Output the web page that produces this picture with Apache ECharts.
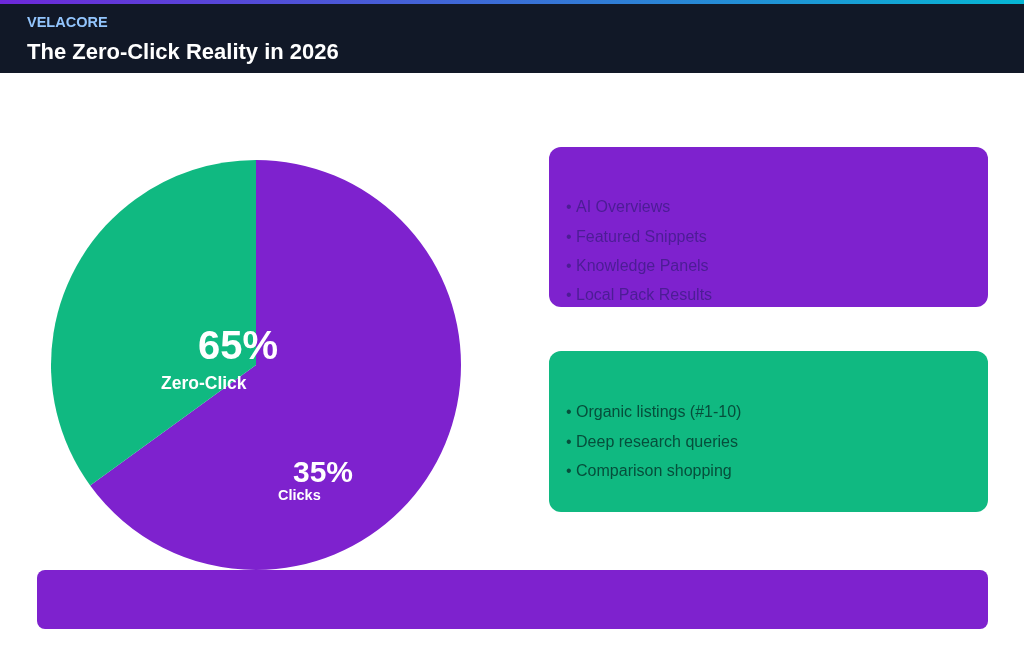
<!DOCTYPE html>
<html>
<head>
<meta charset="utf-8">
<script src="https://cdn.jsdelivr.net/npm/echarts@6/dist/echarts.min.js"></script>
<style>
  html, body { margin: 0; padding: 0; background: #fff; }
  #chart { width: 1024px; height: 658px; }
</style>
</head>
<body>
<div id="chart"></div>
<script>
// data
const categories = ['Zero-Click', 'Clicks'];
const shares = [65, 35];
const sliceColors = ['#7e22ce', '#10b981'];
const zeroClickItems = ['AI Overviews', 'Featured Snippets', 'Knowledge Panels', 'Local Pack Results'];
const clickItems = ['Organic listings (#1-10)', 'Deep research queries', 'Comparison shopping'];

const font = '"Liberation Sans", Arial, sans-serif';

const chart = echarts.init(document.getElementById('chart'));

// bullet list texts inside a card
function bullets(items, x, y0, color) {
  return items.map((t, i) => ({
    type: 'text', left: x, top: y0 + i * 29.3, z: 10,
    style: { text: '• ' + t, fill: color, font: '16px ' + font }
  }));
}

chart.setOption({
  backgroundColor: '#ffffff',
  animation: false,
  series: [
    {
      type: 'pie',
      center: [256, 365],
      radius: 205,
      startAngle: 90,
      clockwise: true,
      label: { show: false },
      labelLine: { show: false },
      emphasis: { disabled: true },
      data: categories.map((c, i) => ({ name: c, value: shares[i], itemStyle: { color: sliceColors[i] } }))
    }
  ],
  graphic: [
    // header
    { type: 'rect', left: 0, top: 0, z: 1, shape: { width: 1024, height: 73 }, style: { fill: '#111827' } },
    {
      type: 'rect', left: 0, top: 0, z: 2, shape: { width: 1024, height: 4 },
      style: { fill: new echarts.graphic.LinearGradient(0, 0, 1, 0, [
        { offset: 0, color: '#6d28d9' }, { offset: 1, color: '#06b6d4' }
      ]) }
    },
    { type: 'text', left: 27, top: 15, z: 3, style: { text: 'VELACORE', fill: '#93c5fd', font: 'bold 14.5px ' + font } },
    { type: 'text', left: 27, top: 42, z: 3, style: { text: 'The Zero-Click Reality in 2026', fill: '#ffffff', font: 'bold 22px ' + font } },

    // pie labels
    { type: 'text', left: 198, top: 328, z: 10, style: { text: shares[0] + '%', fill: '#ffffff', font: 'bold 40px ' + font } },
    { type: 'text', left: 161, top: 375, z: 10, style: { text: categories[0], fill: '#ffffff', font: 'bold 17.5px ' + font } },
    { type: 'text', left: 293, top: 459, z: 10, style: { text: shares[1] + '%', fill: '#ffffff', font: 'bold 30px ' + font } },
    { type: 'text', left: 278, top: 488, z: 10, style: { text: categories[1], fill: '#ffffff', font: 'bold 14.5px ' + font } },

    // cards
    { type: 'rect', left: 549, top: 147, z: 5, shape: { width: 439, height: 160, r: 12 }, style: { fill: '#7e22ce' } },
    ...bullets(zeroClickItems, 566, 200, '#4c1d95'),
    { type: 'rect', left: 549, top: 351, z: 5, shape: { width: 439, height: 161, r: 12 }, style: { fill: '#10b981' } },
    ...bullets(clickItems, 566, 405, '#064e3b'),

    // bottom bar
    { type: 'rect', left: 37, top: 570, z: 20, shape: { width: 951, height: 59, r: 8 }, style: { fill: '#7e22ce' } }
  ]
});
</script>
</body>
</html>
